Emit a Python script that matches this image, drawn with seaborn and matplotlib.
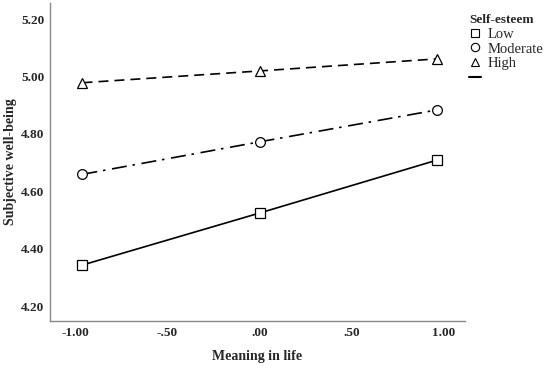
import matplotlib
matplotlib.use("Agg")
import matplotlib.pyplot as plt
from matplotlib.lines import Line2D
import pandas as pd
import seaborn as sns

# values
meaning = [-0.96, 0.0, 0.96]
low = [4.343, 4.524, 4.708]
moderate = [4.659, 4.772, 4.883]
high = [4.978, 5.019, 5.061]
levels = ["Low", "Moderate", "High"]
y_ticks = [4.20, 4.40, 4.60, 4.80, 5.00, 5.20]
x_ticks = [-1.0, -0.5, 0.0, 0.5, 1.0]
x_tick_labels = ["-1.00", "-.50", ".00", ".50", "1.00"]

rows = []
for lvl, vals in zip(levels, [low, moderate, high]):
    for x, y in zip(meaning, vals):
        rows.append({"Meaning in life": x, "Subjective well-being": y, "Self-esteem": lvl})
df = pd.DataFrame(rows)

sns.set_style("white")
plt.rcParams["font.family"] = ["Liberation Serif", "DejaVu Serif"]

fig = plt.figure(figsize=(5.46, 3.66), dpi=100)
ax = fig.add_axes([0.0916, 0.123, 0.76, 0.869])

marker_map = {"Low": "s", "Moderate": "o", "High": "^"}
dash_map = {"Low": "", "Moderate": (9, 3.5, 1.5, 4), "High": (6, 3.6)}
sns.lineplot(data=df, x="Meaning in life", y="Subjective well-being",
             hue="Self-esteem", style="Self-esteem",
             palette={l: "black" for l in levels},
             markers=marker_map, dashes=dash_map, markersize=7,
             markerfacecolor="white", markeredgecolor="black",
             markeredgewidth=0.9, linewidth=1.2, ax=ax, legend=False)

ax.set_xlim(-1.136, 1.114)
ax.set_ylim(4.148, 5.256)
ax.set_xticks(x_ticks)
ax.set_xticklabels(x_tick_labels)
ax.set_yticks(y_ticks)
ax.set_yticklabels([f"{v:.2f}" for v in y_ticks])
ax.tick_params(length=0, labelsize=9.5, pad=4)
for lab in ax.get_xticklabels() + ax.get_yticklabels():
    lab.set_fontweight("bold")

ax.set_xlabel("Meaning in life", fontsize=10, fontweight="bold", labelpad=8)
ax.set_ylabel("Subjective well-being", fontsize=10, fontweight="bold", labelpad=3)

for side in ["top", "right"]:
    ax.spines[side].set_visible(False)
for side in ["left", "bottom"]:
    ax.spines[side].set_color("#888888")
    ax.spines[side].set_linewidth(1.0)

handles = [Line2D([], [], linestyle="none", marker=marker_map[l], markersize=6,
                  markerfacecolor="white", markeredgecolor="black",
                  markeredgewidth=0.8) for l in levels]
handles.append(Line2D([], [], color="black", linewidth=1.5))
leg = fig.legend(handles, levels + [""], title="Self-esteem",
                 loc="upper left", bbox_to_anchor=(0.856, 0.965),
                 frameon=False, fontsize=10.5, handlelength=0.8,
                 handletextpad=0.5, labelspacing=0.1, borderpad=0.1,
                 borderaxespad=0)
leg.get_title().set_fontweight("bold")
leg.get_title().set_fontsize(9.5)
leg._legend_box.align = "left"

fig.savefig("out.png", dpi=100)
